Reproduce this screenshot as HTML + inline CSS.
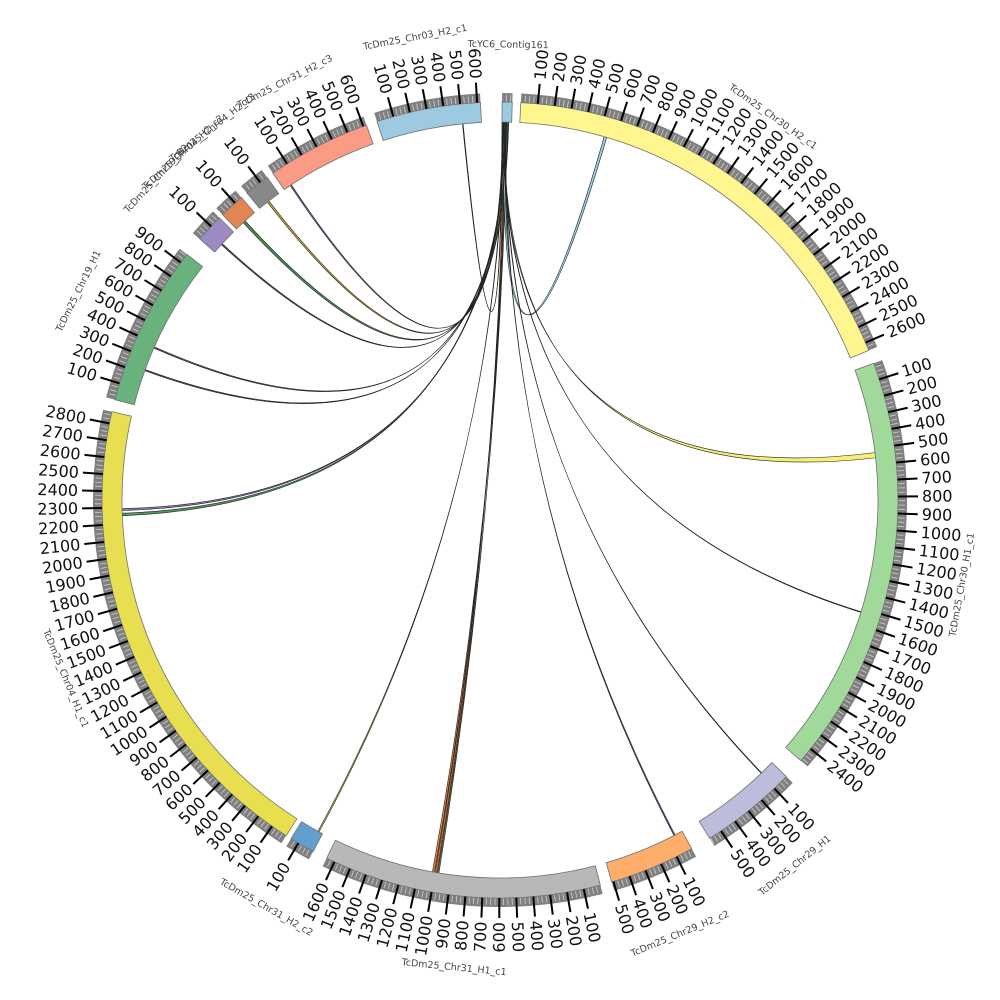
<!DOCTYPE html>
<html><head><meta charset="utf-8"><style>
html,body{margin:0;padding:0;background:#fff;}
svg{display:block}
text{font-family:"DejaVu Sans","Liberation Sans",sans-serif;}
</style></head><body>
<svg id="s" width="1000" height="1000" viewBox="0 0 1000 1000" xmlns="http://www.w3.org/2000/svg">
<g id="links"></g><g id="segs"></g><g id="lab"></g>
</svg>
<script>
var NS="http://www.w3.org/2000/svg",CX=500,CY=500,K=0.0245;
function P(r,a){var t=a*Math.PI/180;return [CX+r*Math.sin(t),CY-r*Math.cos(t)];}
function el(n,at,par,txt){var e=document.createElementNS(NS,n);for(var k in at)e.setAttribute(k,at[k]);if(txt!=null)e.textContent=txt;document.getElementById(par).appendChild(e);return e;}
function arc(r0,r1,a0,a1){var p1=P(r1,a0),p2=P(r1,a1),p3=P(r0,a1),p4=P(r0,a0),l=(a1-a0)>180?1:0;
return "M"+p1+" A"+r1+","+r1+" 0 "+l+" 1 "+p2+" L"+p3+" A"+r0+","+r0+" 0 "+l+" 0 "+p4+"Z";}
var segs=[
["TcYC6_Contig161",0.3,60,"#9ecae1",0],
["TcDm25_Chr30_H2_c1",3,2650,"#fff68f",1],
["TcDm25_Chr30_H1_c1",69.9,2490,"#a1d99b",1],
["TcDm25_Chr29_H1",134,580,"#bcbddc",1],
["TcDm25_Chr29_H2_c2",151.2,510,"#fdae6b",1],
["TcDm25_Chr31_H1_c1",165.4,1650,"#b8b8b8",1],
["TcDm25_Chr31_H2_c2",208,150,"#629fd1",1],
["TcDm25_Chr04_H1_c1",212.5,2870,"#e8df50",1],
["TcDm25_Chr19_H1",284.6,960,"#69b27d",1],
["TcDm25_Chr19_H2",311,170,"#9d8ac5",1],
["TcDm25_Chr04_H2_c2",315.8,150,"#e28552",1],
["TcDm25_Chr04_H2_c3",320.5,150,"#888888",1],
["TcDm25_Chr31_H2_c3",325.2,620,"#f99b85",1],
["TcDm25_Chr03_H2_c1",342,620,"#9ecae1",1]];
segs.forEach(function(s){
 var a0=s[1],a1=a0+s[2]*K;
 el("path",{d:arc(398,407,a0,a1),fill:"#808080"},"segs");
 for(var u=25;u<s[2];u+=25){var q=P(398,a0+u*K),w=P(405,a0+u*K);el("line",{x1:q[0],y1:q[1],x2:w[0],y2:w[1],stroke:"#d0d0d0","stroke-width":0.8},"segs");}
 el("path",{d:arc(378,398,a0,a1),fill:s[3],stroke:"#707070","stroke-width":0.8},"segs");
 if(s[4]){for(var u=100;u<=s[2];u+=100){var a=a0+u*K,q=P(398,a),w=P(418,a);
  el("line",{x1:q[0],y1:q[1],x2:w[0],y2:w[1],stroke:"#000","stroke-width":2},"segs");
  var t=P(422,a);var rot,anc;if(a<180){rot=a-90;anc="start";}else{rot=a+90;anc="end";}
  el("text",{x:t[0],y:t[1],"font-size":16,fill:"#111","text-anchor":anc,"dominant-baseline":"central",transform:"rotate("+rot+" "+t[0]+" "+t[1]+")"},"lab",String(u));}}
 var am=(a0+a1)/2,lr=470;
 if(s[0]=="TcYC6_Contig161")lr=455;
 var t=P(lr,am),rot=(am<90||am>270)?am:am-180;
 el("text",{x:t[0],y:t[1],"font-size":9.5,fill:"#444","text-anchor":"middle","dominant-baseline":"central",transform:"rotate("+rot+" "+t[0]+" "+t[1]+")"},"lab",s[0]);
});
var links=[
[0.6,0.9,189.6,189.9,"#d9541e"],[0.8,1.0,190.0,190.3,"#e07a2a"],[0.9,1.1,189.3,189.5,"#4a8a3a"],
[0.5,0.6,208.6,208.8,"#c9c23a"],
[0.9,1.1,267.6,268.0,"#3c8a4a"],[1.0,1.2,268.4,268.7,"#7c6ab8"],
[1.1,1.2,293.7,293.9,"#6a3a5a"],[1.2,1.3,290.0,290.2,"#5a2a4a"],
[1.2,1.3,312.5,312.7,"#4a3a6a"],[1.0,1.2,317.2,317.6,"#3c7a3c"],
[0.7,0.9,322.0,322.3,"#c89a20"],[0.4,0.5,326.3,326.5,"#6a5ab0"],
[0.3,0.4,354.3,354.4,"#333"],[0.5,0.8,16.0,16.4,"#8ecae8"],
[0.4,0.6,82.8,83.6,"#f5ec6a"],[0.5,0.6,107.2,107.3,"#222"],
[0.7,0.8,136.2,136.3,"#3a5a3a"],[0.8,0.9,152.4,152.6,"#5a4a8a"]];
links.forEach(function(l){var r=378,p1=P(r,l[0]),p2=P(r,l[2]),p3=P(r,l[3]),p4=P(r,l[1]);
 var d="M"+p1+" Q"+CX+","+CY+" "+p2+" A"+r+","+r+" 0 0 1 "+p3+" Q"+CX+","+CY+" "+p4+" A"+r+","+r+" 0 0 0 "+p1+"Z";
 el("path",{d:d,fill:l[4],stroke:"#222","stroke-width":0.6,"fill-opacity":0.9},"links");});
</script>
</body></html>
